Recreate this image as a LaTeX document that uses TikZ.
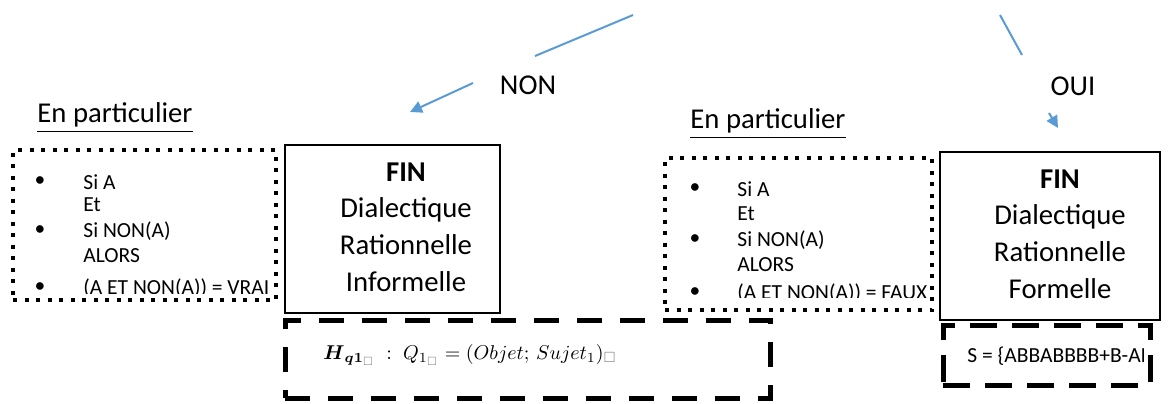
\documentclass[tikz,border=0pt]{standalone}
\usepackage{amsmath,amssymb}
\usepackage{fontspec}
\setmainfont{Carlito}
\usetikzlibrary{arrows.meta}
\definecolor{linkblue}{RGB}{91,155,213}

\begin{document}
\begin{tikzpicture}[x=0.5pt,y=-0.5pt,
            big/.style={font=\fontsize{14.35}{18.3}\selectfont},
            small/.style={font=\fontsize{10.75}{13}\selectfont, anchor=west, inner sep=0pt},
            dot/.style={font=\fontsize{10.75}{13}\selectfont, inner sep=0pt},
            finbox/.style={draw, line width=0.75pt, inner sep=0pt},
            dotbox/.style={draw, line width=2pt, dash pattern=on 2pt off 3.75pt, inner sep=0pt},
            dashbox/.style={draw, line width=2.5pt, dash pattern=on 12.5pt off 9pt, inner sep=0pt},
            link/.style={linkblue, line width=1pt},
            tip/.style={-{Triangle[length=6pt,width=6pt]}}
            ]
            \useasboundingbox (0,0) rectangle (1176,403);

            % links from above
            \coordinate (n1) at (633,15);
            \coordinate (n2) at (535,56);
            \coordinate (n3) at (473,83);
            \coordinate (n4) at (410,112);
            \coordinate (o1) at (1000,15);
            \coordinate (o2) at (1022,55);
            \coordinate (o3) at (1049,113);
            \coordinate (o4) at (1058,128);
            \node[big] (non) at (528,85) {NON};
            \node[big] (oui) at (1073,86) {OUI};
            \draw[link] (n1) -- (n2);
            \draw[link, tip] (n3) -- (n4);
            \draw[link] (o1) -- (o2);
            \draw[link, tip] (o3) -- (o4);

            % left side
            \node[big] (part1) at (115,118) {\underline{En particulier}};
            \node[dotbox, minimum width=131.5pt, minimum height=75pt] (list1) at (144.5,225) {};
            \begin{scope}
            \clip (13,150) rectangle (276,293);
            \node[dot] (b11) at (40,182) {•};
            \node[small] (l11) at (83,182) {Si A};
            \node[small] (l12) at (83,205) {Et};
            \node[dot] (b12) at (40,231) {•};
            \node[small] (l13) at (83,231) {Si NON(A)};
            \node[small] (l14) at (83,256) {ALORS};
            \node[dot] (b13) at (40,288) {•};
            \node[small] (l15) at (83,288) {(A ET NON(A)) = VRAI};
            \end{scope}

            \node[finbox, minimum width=107.5pt, minimum height=84pt] (fin1) at (392.5,229) {};
            \node[big, align=center] (fint1) at (406,227) {\textbf{FIN}\\Dialectique\\Rationnelle\\Informelle};

            \node[dashbox, minimum width=242.5pt, minimum height=39pt] (hyp) at (527.5,359) {};
            \node[anchor=west, inner sep=0pt, font=\fontsize{9.6}{12}\selectfont] (hypt) at (323,355)
                {$\boldsymbol{H}_{\boldsymbol{q1}_{\color{gray}\square}}\;:\;Q_{1_{\color{gray}\square}}=(Objet;\,Sujet_1)_{\color{gray}\square}$};

            % right side
            \node[big] (part2) at (768,124) {\underline{En particulier}};
            \node[dotbox, minimum width=133.5pt, minimum height=76pt] (list2) at (798.5,234) {};
            \begin{scope}
            \clip (665,158) rectangle (932,297);
            \node[dot] (b21) at (695,189) {•};
            \node[small] (l21) at (737,189) {Si A};
            \node[small] (l22) at (737,214) {Et};
            \node[dot] (b22) at (695,240) {•};
            \node[small] (l23) at (737,240) {Si NON(A)};
            \node[small] (l24) at (737,265) {ALORS};
            \node[dot] (b23) at (695,293) {•};
            \node[small] (l25) at (737,293) {(A ET NON(A)) = FAUX};
            \end{scope}

            \node[finbox, minimum width=110pt, minimum height=84pt] (fin2) at (1050,236) {};
            \node[big, align=center] (fint2) at (1060,234) {\textbf{FIN}\\Dialectique\\Rationnelle\\Formelle};

            \node[dashbox, minimum width=103.5pt, minimum height=30pt, dash pattern=on 13.5pt off 7.5pt] (seq) at (1046.5,355) {};
            \begin{scope}
            \clip (943,325) rectangle (1143,385);
            \node[small] (seqt) at (967,356) {S = \{ABBABBBB+B-AB};
            \end{scope}
\end{tikzpicture}
\end{document}
